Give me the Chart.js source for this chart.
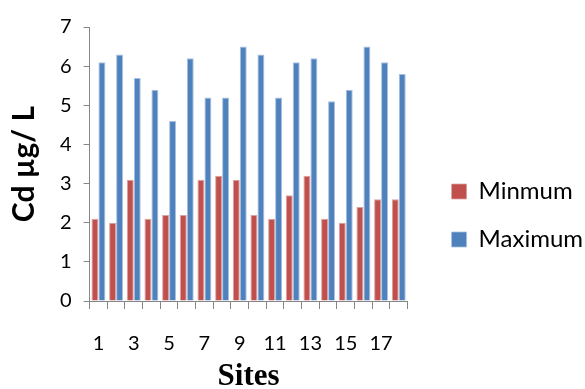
<!DOCTYPE html>
<html>
<head>
<meta charset="utf-8">
<script src="https://cdn.jsdelivr.net/npm/chart.js@4/dist/chart.umd.min.js"></script>
<style>
  html, body { margin: 0; padding: 0; background: #ffffff; }
  #wrap { width: 585px; height: 389px; position: relative; }
</style>
</head>
<body>
<div id="wrap"><canvas id="c"></canvas></div>
<script>
// Cadmium concentrations per sampling site
const sites = ['1','2','3','4','5','6','7','8','9','10','11','12','13','14','15','16','17','18'];
const minimumValues = [2.1, 2.0, 3.1, 2.1, 2.2, 2.2, 3.1, 3.2, 3.1, 2.2, 2.1, 2.7, 3.2, 2.1, 2.0, 2.4, 2.6, 2.6];
const maximumValues = [6.1, 6.3, 5.7, 5.4, 4.6, 6.2, 5.2, 5.2, 6.5, 6.3, 5.2, 6.1, 6.2, 5.1, 5.4, 6.5, 6.1, 5.8];
const seriesNames = ['Minmum', 'Maximum'];
const yTicks = [0, 1, 2, 3, 4, 5, 6, 7];

const axisGrey = '#868686';
const bodyFont = 'Lato, "Open Sans", sans-serif';

new Chart(document.getElementById('c'), {
  type: 'bar',
  data: {
    labels: sites,
    datasets: [
      {
        label: seriesNames[0],
        data: minimumValues,
        backgroundColor: '#c0504d',
        borderColor: '#d9a3a1',
        borderWidth: { top: 1, left: 1, right: 1, bottom: 0 },
        categoryPercentage: 0.79,
        barPercentage: 1.0
      },
      {
        label: seriesNames[1],
        data: maximumValues,
        backgroundColor: '#4f81bd',
        borderColor: '#a7c1e2',
        borderWidth: { top: 1, left: 1, right: 1, bottom: 0 },
        categoryPercentage: 0.79,
        barPercentage: 1.0
      }
    ]
  },
  options: {
    responsive: true,
    maintainAspectRatio: false,
    animation: false,
    layout: { padding: { top: 27, left: 6, right: -8, bottom: 0 } },
    plugins: {
      tooltip: { enabled: false },
      legend: {
        position: 'right',
        align: 'center',
        maxWidth: 175,
        title: { display: true, text: '', font: { size: 10 }, padding: { top: 2, bottom: 1 } },
        labels: {
          boxWidth: 15,
          boxHeight: 15,
          padding: 24,
          color: '#000000',
          font: { family: bodyFont, size: 24 }
        }
      }
    },
    scales: {
      x: {
        type: 'category',
        offset: true,
        border: { display: true, color: axisGrey, width: 1 },
        grid: {
          display: true,
          offset: true,
          drawOnChartArea: false,
          drawTicks: true,
          tickLength: 8,
          color: axisGrey
        },
        ticks: {
          autoSkip: false,
          maxRotation: 0,
          minRotation: 0,
          padding: 23,
          color: '#000000',
          font: { family: bodyFont, size: 20 },
          callback: function (value, index) {
            return index % 2 === 0 ? this.getLabelForValue(value) : '';
          }
        },
        title: {
          display: true,
          text: 'Sites',
          color: '#000000',
          padding: { top: -18, bottom: -3 },
          font: { family: '"Liberation Serif", "Times New Roman", serif', size: 31, weight: 'bold', lineHeight: 1 }
        }
      },
      y: {
        min: yTicks[0],
        max: yTicks[yTicks.length - 1],
        border: { display: true, color: axisGrey, width: 1 },
        grid: {
          display: true,
          drawOnChartArea: false,
          drawTicks: true,
          tickLength: 6,
          color: axisGrey
        },
        afterBuildTicks: function (axis) {
          axis.ticks = yTicks.map(v => ({ value: v }));
        },
        ticks: {
          padding: 12,
          color: '#000000',
          font: { family: bodyFont, size: 20 }
        },
        title: {
          display: true,
          text: 'Cd µg/ L',
          color: '#000000',
          padding: { top: 0, bottom: 6 },
          font: { family: bodyFont, size: 30, weight: 'bold' }
        }
      },
      // empty right-hand scale that keeps the legend clear of the plot
      gap: {
        type: 'linear',
        position: 'right',
        display: true,
        grid: { display: false },
        border: { display: false },
        ticks: { display: false },
        afterFit: function (axis) { axis.width = 20; }
      }
    }
  }
});
</script>
</body>
</html>
